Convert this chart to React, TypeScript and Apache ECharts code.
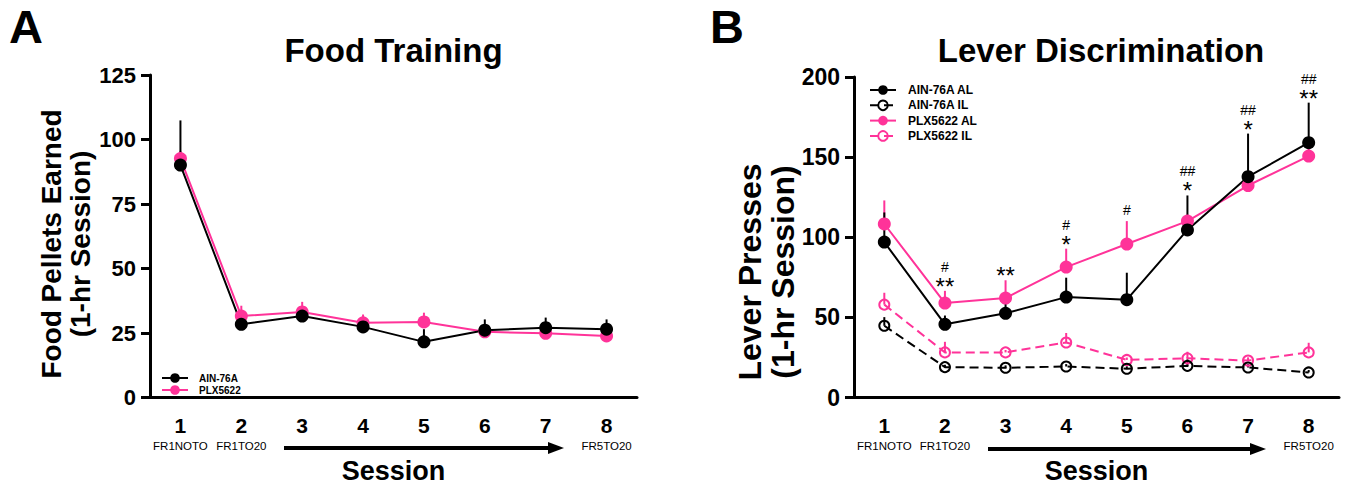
import React, { useEffect, useRef } from 'react';
import * as echarts from 'echarts';

const sessions = ['1', '2', '3', '4', '5', '6', '7', '8'];
const sessionSubLabels = ['FR1NOTO', 'FR1TO20', '', '', '', '', '', 'FR5TO20'];

const foodAinMean = [90.1, 28.4, 31.6, 27.4, 21.6, 26.1, 27.1, 26.5];
const foodAinSem = [17.3, 2.0, 3.0, 3.5, 4.9, 4.2, 3.9, 3.8];
const foodPlxMean = [92.6, 31.6, 33.2, 29.0, 29.3, 25.5, 24.9, 23.9];
const foodPlxSem = [3.0, 4.0, 3.9, 3.2, 3.6, 1.2, 1.2, 1.2];

const leverAinAlMean = [97.0, 45.7, 52.6, 62.7, 61.1, 104.6, 137.8, 159.0];
const leverAinAlSem = [18.5, 5.5, 6.8, 12.1, 16.8, 21.5, 26.9, 25.0];
const leverPlxAlMean = [108.3, 59.0, 62.1, 81.4, 95.8, 110.1, 132.3, 150.7];
const leverPlxAlSem = [14.7, 7.6, 11.1, 11.5, 14.3, 4.0, 3.0, 10.0];
const leverAinIlMean = [44.8, 19.0, 18.6, 19.4, 18.0, 19.8, 18.8, 15.7];
const leverAinIlSem = [5.4, 1.5, 1.5, 1.5, 1.5, 4.0, 2.0, 1.5];
const leverPlxIlMean = [58.0, 28.2, 28.2, 34.4, 23.5, 24.5, 23.1, 28.2];
const leverPlxIlSem = [7.4, 6.6, 1.5, 5.9, 1.5, 4.1, 2.0, 6.0];

const sigStars = ['', '**', '**', '*', '', '*', '*', '**'];
const sigHashes = ['', '#', '', '#', '#', '##', '##', '##'];

const FONT = '"Liberation Sans", Arial, Helvetica, sans-serif';
const PINK = '#ff3399';
const BLACK = '#000000';

function errorSeries(mean: number[], sem: number[], color: string, axis: number) {
  return {
    type: 'custom',
    xAxisIndex: axis,
    yAxisIndex: axis,
    silent: true,
    z: 1,
    data: mean.map((m, i) => [i, m, m + sem[i]]),
    renderItem: (params: any, api: any) => {
      const p0 = api.coord([api.value(0), api.value(1)]);
      const p1 = api.coord([api.value(0), api.value(2)]);
      return {
        type: 'line',
        shape: { x1: p0[0], y1: p0[1], x2: p1[0], y2: p1[1] },
        style: { stroke: color, lineWidth: 2 },
      };
    },
  };
}

function lineSeries(name: string, data: number[], color: string, axis: number, open: boolean, size: number) {
  return {
    type: 'line',
    name,
    xAxisIndex: axis,
    yAxisIndex: axis,
    data,
    symbol: 'circle',
    symbolSize: size,
    z: 3,
    lineStyle: { color, width: 2, type: open ? [9, 5] : 'solid' },
    itemStyle: open
      ? { color: 'rgba(255,255,255,0)', borderColor: color, borderWidth: 2 }
      : { color, borderWidth: 0 },
  };
}

function xAxisCfg(gridIndex: number) {
  return {
    type: 'category',
    gridIndex,
    data: sessions,
    boundaryGap: true,
    axisLine: { lineStyle: { color: BLACK, width: 3 } },
    axisTick: { alignWithLabel: true, length: 9, lineStyle: { color: BLACK, width: 3 } },
    axisLabel: {
      margin: 17,
      interval: 0,
      formatter: (v: string, i: number) =>
        sessionSubLabels[i] ? `{n|${v}}\n{s|${sessionSubLabels[i]}}` : `{n|${v}}`,
      rich: {
        n: { fontFamily: FONT, fontSize: 21, fontWeight: 'bold', color: BLACK, lineHeight: 22 },
        s: { fontFamily: FONT, fontSize: 11.5, color: BLACK, lineHeight: 19 },
      },
    },
    name: 'Session',
    nameLocation: 'middle',
    nameGap: 57,
    nameTextStyle: { fontFamily: FONT, fontSize: 27, fontWeight: 'bold', color: BLACK },
  };
}

function yAxisCfg(gridIndex: number, max: number, interval: number, fontSize: number) {
  return {
    type: 'value',
    gridIndex,
    min: 0,
    max,
    interval,
    splitLine: { show: false },
    axisLine: { show: true, lineStyle: { color: BLACK, width: 3 } },
    axisTick: { show: true, length: 9, lineStyle: { color: BLACK, width: 3 } },
    axisLabel: { margin: 14, fontFamily: FONT, fontSize, fontWeight: 'bold', color: BLACK },
  };
}

export default function App() {
  const ref = useRef<HTMLDivElement>(null);

  useEffect(() => {
    document.body.style.margin = '0';
    if (!ref.current) return;
    const chart = echarts.init(ref.current, undefined, { renderer: 'svg' });

    const annotation = {
      type: 'custom',
      xAxisIndex: 1,
      yAxisIndex: 1,
      silent: true,
      z: 5,
      data: sessions.map((_, i) => [
        i,
        Math.max(leverAinAlMean[i] + leverAinAlSem[i], leverPlxAlMean[i] + leverPlxAlSem[i]),
      ]),
      renderItem: (params: any, api: any) => {
        const i = params.dataIndex;
        const p = api.coord([api.value(0), api.value(1)]);
        const children: any[] = [];
        let hashY = p[1] - 11;
        if (sigStars[i]) {
          children.push({
            type: 'text',
            x: p[0],
            y: p[1] - 4.5,
            style: {
              text: sigStars[i],
              font: `normal 24px ${FONT}`,
              fill: BLACK,
              textAlign: 'center',
              textVerticalAlign: 'middle',
              align: 'center',
              verticalAlign: 'middle',
            },
          });
          hashY = p[1] - 24;
        }
        if (sigHashes[i]) {
          children.push({
            type: 'text',
            x: p[0],
            y: hashY,
            style: {
              text: sigHashes[i],
              font: `normal 14px ${FONT}`,
              fill: BLACK,
              textAlign: 'center',
              textVerticalAlign: 'middle',
              align: 'center',
              verticalAlign: 'middle',
            },
          });
        }
        return { type: 'group', children };
      },
    };

    const textEl = (text: string, x: number, y: number, font: string, rotation = 0, lineHeight?: number) => ({
      type: 'text',
      x,
      y,
      rotation,
      style: {
        text,
        font,
        fill: BLACK,
        lineHeight,
        textAlign: 'center',
        textVerticalAlign: 'middle',
        align: 'center',
        verticalAlign: 'middle',
      },
    });

    const option: any = {
      animation: false,
      backgroundColor: '#ffffff',
      grid: [
        { left: 150, top: 75, width: 487, height: 326 },
        { left: 854, top: 77, width: 485, height: 325 },
      ],
      xAxis: [xAxisCfg(0), xAxisCfg(1)],
      yAxis: [yAxisCfg(0, 125, 25, 22), yAxisCfg(1, 200, 50, 23)],
      legend: [
        {
          data: ['AIN-76A', 'PLX5622'],
          orient: 'vertical',
          left: 156,
          top: 368,
          itemWidth: 26,
          itemHeight: 12,
          itemGap: 2,
          selectedMode: false,
          textStyle: { fontFamily: FONT, fontSize: 10, fontWeight: 'bold', color: BLACK, padding: [0, 0, 0, 6] },
        },
        {
          data: ['AIN-76A AL', 'AIN-76A IL', 'PLX5622 AL', 'PLX5622 IL'],
          orient: 'vertical',
          left: 864,
          top: 79,
          itemWidth: 26,
          itemHeight: 12,
          itemGap: 3.3,
          selectedMode: false,
          textStyle: { fontFamily: FONT, fontSize: 12, fontWeight: 'bold', color: BLACK, padding: [0, 0, 0, 7] },
        },
      ],
      series: [
        errorSeries(foodPlxMean, foodPlxSem, PINK, 0),
        errorSeries(foodAinMean, foodAinSem, BLACK, 0),
        lineSeries('PLX5622', foodPlxMean, PINK, 0, false, 13),
        lineSeries('AIN-76A', foodAinMean, BLACK, 0, false, 13),
        errorSeries(leverPlxIlMean, leverPlxIlSem, PINK, 1),
        errorSeries(leverAinIlMean, leverAinIlSem, BLACK, 1),
        errorSeries(leverPlxAlMean, leverPlxAlSem, PINK, 1),
        errorSeries(leverAinAlMean, leverAinAlSem, BLACK, 1),
        lineSeries('PLX5622 IL', leverPlxIlMean, PINK, 1, true, 10),
        lineSeries('AIN-76A IL', leverAinIlMean, BLACK, 1, true, 10),
        lineSeries('PLX5622 AL', leverPlxAlMean, PINK, 1, false, 13),
        lineSeries('AIN-76A AL', leverAinAlMean, BLACK, 1, false, 13),
        annotation,
      ],
      graphic: [
        textEl('A', 26, 26, `bold 47px ${FONT}`),
        textEl('B', 727, 26, `bold 47px ${FONT}`),
        textEl('Food Training', 393.5, 50, `bold 33px ${FONT}`),
        textEl('Lever Discrimination', 1101, 50, `bold 33px ${FONT}`),
        textEl('Food Pellets Earned\n(1-hr Session)', 66, 244, `bold 28px ${FONT}`, Math.PI / 2, 29),
        textEl('Lever Presses\n(1-hr Session)', 766, 272, `bold 32px ${FONT}`, Math.PI / 2, 33),
        { type: 'line', shape: { x1: 284, y1: 448, x2: 550, y2: 448 }, style: { stroke: BLACK, lineWidth: 4 } },
        { type: 'polygon', shape: { points: [[548, 442], [564, 448], [548, 454]] }, style: { fill: BLACK } },
        { type: 'line', shape: { x1: 988, y1: 449, x2: 1252, y2: 449 }, style: { stroke: BLACK, lineWidth: 4 } },
        { type: 'polygon', shape: { points: [[1250, 443], [1266, 449], [1250, 455]] }, style: { fill: BLACK } },
      ],
    };

    chart.setOption(option);
    return () => chart.dispose();
  }, []);

  return <div ref={ref} style={{ width: 1348, height: 489 }} />;
}
